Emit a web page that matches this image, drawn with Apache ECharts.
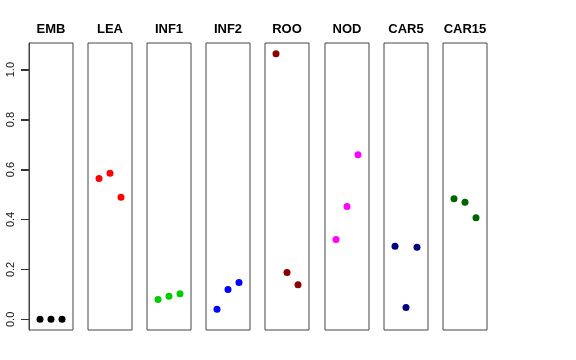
<!DOCTYPE html>
<html><head><meta charset="utf-8">
<script src="https://cdn.jsdelivr.net/npm/echarts@6/dist/echarts.min.js"></script>
<style>html,body{margin:0;padding:0;background:#fff}#c{width:576px;height:360px}</style>
</head><body><div id="c"></div>
<script>
const panels = ['EMB','LEA','INF1','INF2','ROO','NOD','CAR5','CAR15'];
const colors = ['#000000','#FF0000','#00CD00','#0000FF','#8B0000','#FF00FF','#000080','#006400'];
const EMB = [0, 0, 0];
const LEA = [0.564, 0.585, 0.489];
const INF1 = [0.080, 0.093, 0.103];
const INF2 = [0.040, 0.120, 0.148];
const ROO = [1.064, 0.188, 0.139];
const NOD = [0.320, 0.452, 0.659];
const CAR5 = [0.293, 0.047, 0.289];
const CAR15 = [0.483, 0.469, 0.407];
const values = [EMB, LEA, INF1, INF2, ROO, NOD, CAR5, CAR15];
const yTicks = [0, 0.2, 0.4, 0.6, 0.8, 1.0];

const yMin = -0.0426, yMax = 1.1066;
const lefts = [29, 88, 147, 206, 265, 325, 384, 443];
const W = 44, TOP = 43, H = 287;

const grids = [], xAxes = [], yAxes = [], series = [], texts = [];
panels.forEach((p, i) => {
  grids.push({left: lefts[i], top: TOP, width: W, height: H, show: true,
    borderColor: '#444', borderWidth: 1, backgroundColor: 'transparent', containLabel: false});
  xAxes.push({type: 'value', gridIndex: i, min: 0, max: 4, show: false});
  yAxes.push({type: 'value', gridIndex: i, min: yMin, max: yMax, show: i === 0,
    splitLine: {show: false}, axisLine: {show: i === 0, lineStyle: {color: '#444'}},
    axisTick: {show: i === 0, inside: false, length: 8, customValues: yTicks, lineStyle: {color: '#333', width: 1}},
    axisLabel: {show: i === 0, customValues: yTicks, rotate: 90, margin: 13,
      fontFamily: 'Liberation Sans, Arial, sans-serif', fontSize: 11, color: '#111',
      formatter: v => v.toFixed(1)}});
  series.push({type: 'scatter', xAxisIndex: i, yAxisIndex: i, symbolSize: 7,
    itemStyle: {color: colors[i], opacity: 1}, silent: true,
    data: values[i].map((v, k) => [k + 1, v])});
  texts.push({type: 'text', x: lefts[i] + W / 2, y: 29,
    style: {text: p, textAlign: 'center', textVerticalAlign: 'middle',
      font: 'bold 13px "Liberation Sans", Arial, sans-serif', fill: '#000'}});
});

const chart = echarts.init(document.getElementById('c'), null, {renderer: 'canvas'});
chart.setOption({animation: false, graphic: {elements: texts}, grid: grids, xAxis: xAxes, yAxis: yAxes, series: series});

// y-axis tick marks of the first panel as filled rects, positioned through the axis scale
const tickEls = [];
yTicks.forEach((v, k) => {
  let pt = null;
  try { pt = chart.convertToPixel({gridIndex: 0}, [0, v]); } catch (e) { pt = null; }
  if (pt && isFinite(pt[0]) && isFinite(pt[1])) {
    const x = Math.round(pt[0]), y = Math.round(pt[1]);
    tickEls.push({type: 'rect', id: 'tick' + k, z: 100,
      shape: {x: x - 8, y: y, width: 8, height: 1},
      style: {fill: '#333'}, silent: true});
  }
});
if (tickEls.length) chart.setOption({graphic: {elements: tickEls}});
</script></body></html>
